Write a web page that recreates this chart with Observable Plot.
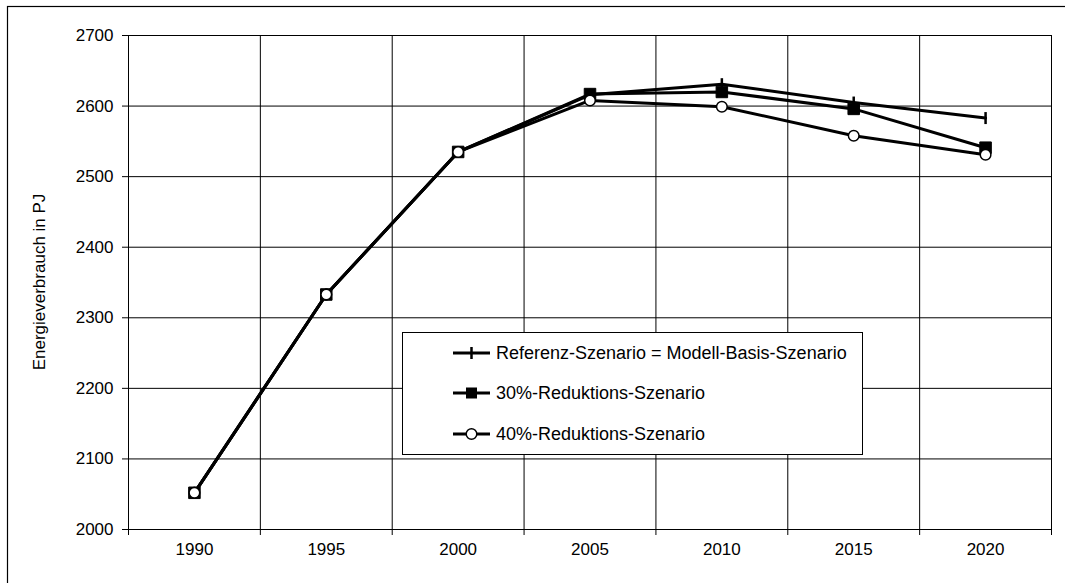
<!DOCTYPE html>
<html>
<head>
<meta charset="utf-8">
<script src="https://cdn.jsdelivr.net/npm/d3@7"></script>
<script src="https://cdn.jsdelivr.net/npm/@observablehq/plot@0.6"></script>
<style>
  html, body { margin: 0; padding: 0; background: #fff; }
  #chart { position: relative; width: 1065px; height: 583px; overflow: hidden; }
  svg { font-family: "Liberation Sans", Arial, sans-serif; }
</style>
</head>
<body>
<div id="chart"></div>
<script>
// ---- data ----
const years = [1990, 1995, 2000, 2005, 2010, 2015, 2020];
const referenz = [2052, 2333, 2535, 2616, 2631, 2605, 2583];
const red30 = [2052, 2333, 2535, 2617, 2620, 2596, 2541];
const red40 = [2052, 2333, 2535, 2608, 2599, 2558, 2531];
const seriesNames = [
  "Referenz-Szenario = Modell-Basis-Szenario",
  "30%-Reduktions-Szenario",
  "40%-Reduktions-Szenario"
];
const yTicks = [2000, 2100, 2200, 2300, 2400, 2500, 2600, 2700];
const yTitle = "Energieverbrauch in PJ";

// category boundaries (x is categorical, one band per year)
const bounds = [years[0] - 2.5, ...years.map(y => y + 2.5)];

const mk = (vals) => years.map((y, i) => ({year: y, value: vals[i]}));
const dRef = mk(referenz), d30 = mk(red30), d40 = mk(red40);

// vertical bar symbol for the reference series
const vbar = {
  draw(context, size) {
    const r = Math.sqrt(size / Math.PI);
    context.moveTo(0, -r);
    context.lineTo(0, r);
  }
};

const W = 1065, H = 583;
const chart = Plot.plot({
  width: W,
  height: H,
  marginLeft: 128,
  marginRight: 14,
  marginTop: 35,
  marginBottom: 54,
  style: {fontFamily: '"Liberation Sans", Arial, sans-serif', fontSize: "17px", color: "#000", background: "#fff"},
  x: {type: "linear", domain: [bounds[0], bounds[bounds.length - 1]]},
  y: {domain: [2000, 2700]},
  marks: [
    Plot.ruleY(yTicks, {stroke: "#000", strokeWidth: 1}),
    Plot.ruleX(bounds, {stroke: "#000", strokeWidth: 1}),
    Plot.axisY({ticks: yTicks, tickSize: 6, tickPadding: 9, tickFormat: d => String(d), label: null, fontSize: 17, stroke: "#000"}),
    Plot.axisX({ticks: bounds, tickSize: 6, tickFormat: () => "", label: null, stroke: "#000"}),
    Plot.axisX({ticks: years, tickSize: 0, tickPadding: 13, tickFormat: d => String(d), label: null, fontSize: 17}),
    // Referenz
    Plot.line(dRef, {x: "year", y: "value", stroke: "#000", strokeWidth: 3}),
    Plot.dot(dRef, {x: "year", y: "value", symbol: vbar, r: 6, stroke: "#000", strokeWidth: 2.5, fill: "none"}),
    // 30 %
    Plot.line(d30, {x: "year", y: "value", stroke: "#000", strokeWidth: 3}),
    Plot.dot(d30, {x: "year", y: "value", symbol: "square", r: 6.5, fill: "#000", stroke: "#000", strokeWidth: 1}),
    // 40 %
    Plot.line(d40, {x: "year", y: "value", stroke: "#000", strokeWidth: 3}),
    Plot.dot(d40, {x: "year", y: "value", symbol: "circle", r: 5.3, fill: "#fff", stroke: "#000", strokeWidth: 1.5})
  ]
});

document.getElementById("chart").appendChild(chart);

const svg = d3.select(chart);
// outer frame
svg.append("rect")
  .attr("x", 7.5).attr("y", 6.5).attr("width", W + 20).attr("height", H + 20)
  .attr("fill", "none").attr("stroke", "#000").attr("stroke-width", 1.2);

// y-axis title
svg.append("text")
  .attr("transform", `translate(39,${(35 + 529) / 2}) rotate(-90)`)
  .attr("text-anchor", "middle")
  .attr("dominant-baseline", "central")
  .attr("font-size", 17)
  .attr("fill", "#000")
  .text(yTitle);

// legend
const lg = svg.append("g").attr("text-anchor", "start");
const box = lg.append("rect")
  .attr("x", 402.5).attr("y", 332.5).attr("height", 122)
  .attr("fill", "#fff").attr("stroke", "#000").attr("stroke-width", 1);
const rowsY = [353, 393, 434];
let maxRight = 0;
seriesNames.forEach((name, i) => {
  const y = rowsY[i];
  lg.append("line").attr("x1", 453).attr("x2", 490).attr("y1", y).attr("y2", y)
    .attr("stroke", "#000").attr("stroke-width", 3);
  const cx = 471.5;
  if (i === 0) {
    lg.append("line").attr("x1", cx).attr("x2", cx).attr("y1", y - 6).attr("y2", y + 6)
      .attr("stroke", "#000").attr("stroke-width", 2.5);
  } else if (i === 1) {
    lg.append("rect").attr("x", cx - 5.5).attr("y", y - 5.5).attr("width", 11).attr("height", 11)
      .attr("fill", "#000");
  } else {
    lg.append("circle").attr("cx", cx).attr("cy", y).attr("r", 5.3)
      .attr("fill", "#fff").attr("stroke", "#000").attr("stroke-width", 1.5);
  }
  const t = lg.append("text").attr("x", 496).attr("y", y)
    .attr("text-anchor", "start")
    .attr("dominant-baseline", "central")
    .attr("font-size", 18).attr("fill", "#000").text(name);
  const bb = t.node().getBBox();
  maxRight = Math.max(maxRight, bb.x + bb.width);
});
box.attr("width", Math.round(maxRight + 16 - 402.5));
</script>
</body>
</html>
